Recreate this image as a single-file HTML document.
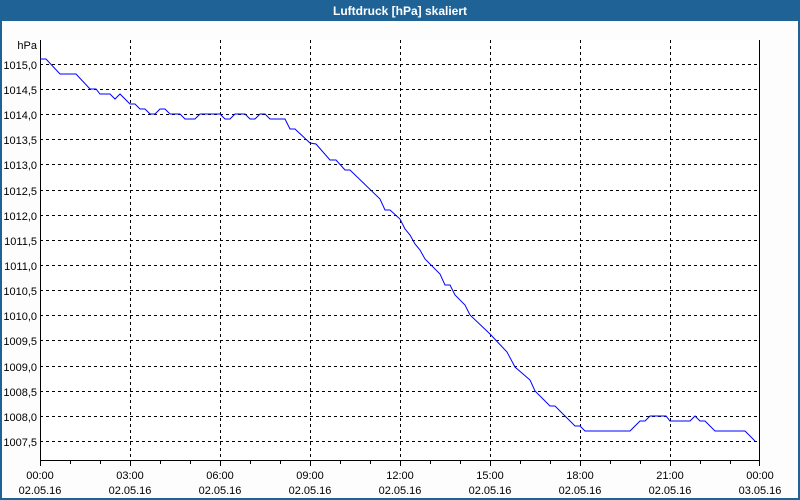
<!DOCTYPE html>
<html><head><meta charset="utf-8"><style>
html,body{margin:0;padding:0;background:#fff;}
svg{display:block;font-family:"Liberation Sans","DejaVu Sans",sans-serif;}
</style></head><body>
<svg width="800" height="500" viewBox="0 0 800 500" xmlns="http://www.w3.org/2000/svg">
<rect x="0" y="0" width="800" height="500" fill="#1f6396"/>
<rect x="2" y="21" width="796" height="477" fill="#fdfdfd"/>
<text x="400" y="15" fill="#fff" font-size="12" font-weight="bold" text-anchor="middle">Luftdruck [hPa] skaliert</text>
<rect x="40" y="40" width="720" height="420" fill="#fff"/>
<g stroke="#000" stroke-width="1" stroke-dasharray="3,3" shape-rendering="crispEdges">
<line x1="40" y1="64.5" x2="760" y2="64.5"/><line x1="40" y1="89.5" x2="760" y2="89.5"/><line x1="40" y1="114.5" x2="760" y2="114.5"/><line x1="40" y1="139.5" x2="760" y2="139.5"/><line x1="40" y1="164.5" x2="760" y2="164.5"/><line x1="40" y1="190.5" x2="760" y2="190.5"/><line x1="40" y1="215.5" x2="760" y2="215.5"/><line x1="40" y1="240.5" x2="760" y2="240.5"/><line x1="40" y1="265.5" x2="760" y2="265.5"/><line x1="40" y1="290.5" x2="760" y2="290.5"/><line x1="40" y1="315.5" x2="760" y2="315.5"/><line x1="40" y1="340.5" x2="760" y2="340.5"/><line x1="40" y1="366.5" x2="760" y2="366.5"/><line x1="40" y1="391.5" x2="760" y2="391.5"/><line x1="40" y1="416.5" x2="760" y2="416.5"/><line x1="40" y1="441.5" x2="760" y2="441.5"/>
<line x1="130.5" y1="40" x2="130.5" y2="460"/><line x1="220.5" y1="40" x2="220.5" y2="460"/><line x1="310.5" y1="40" x2="310.5" y2="460"/><line x1="400.5" y1="40" x2="400.5" y2="460"/><line x1="490.5" y1="40" x2="490.5" y2="460"/><line x1="580.5" y1="40" x2="580.5" y2="460"/><line x1="670.5" y1="40" x2="670.5" y2="460"/>
</g>
<g stroke="#000" stroke-width="1" shape-rendering="crispEdges" fill="none">
<line x1="40.5" y1="40" x2="40.5" y2="461"/><line x1="759.5" y1="40" x2="759.5" y2="466"/><line x1="40" y1="460.5" x2="760" y2="460.5"/>
<path d="M40.5 460v6M70.5 460v4M100.5 460v4M130.5 460v6M160.5 460v4M190.5 460v4M220.5 460v6M250.5 460v4M280.5 460v4M310.5 460v6M340.5 460v4M370.5 460v4M400.5 460v6M430.5 460v4M460.5 460v4M490.5 460v6M520.5 460v4M550.5 460v4M580.5 460v6M610.5 460v4M640.5 460v4M670.5 460v6M700.5 460v4M730.5 460v4"/>
</g>
<polyline fill="none" stroke="#0000ff" stroke-width="1" points="40,59 46,59 60,74 76,74 90,89 96,89 100,94 110,94 115,99 120,94 130,104 135,104 140,109 145,109 150,114 155,114 160,109 165,109 170,114 180,114 185,119 195,119 200,114 220,114 225,119 230,119 235,114 245,114 250,119 255,119 260,114 265,114 270,119 285,119 290,129 295,129 310,143 316,144 330,160 336,160 345,170 350,170 380,199 385,210 390,210 400,219 405,229 410,235 415,244 420,250 425,259 440,274 445,285 450,285 455,295 465,305 470,315 490,334 507,352 515,367 530,380 535,391 550,406 555,406 575,426 580,426 585,431 630,431 640,421 645,421 650,416 666,416 670,421 690,421 695,416 700,421 705,421 715,431 745,431 755,441"/>
<g font-size="11" fill="#000" text-anchor="end">
<text x="37" y="49">hPa</text>
<text x="37" y="69">1015,0</text><text x="37" y="94">1014,5</text><text x="37" y="119">1014,0</text><text x="37" y="144">1013,5</text><text x="37" y="169">1013,0</text><text x="37" y="195">1012,5</text><text x="37" y="220">1012,0</text><text x="37" y="245">1011,5</text><text x="37" y="270">1011,0</text><text x="37" y="295">1010,5</text><text x="37" y="320">1010,0</text><text x="37" y="345">1009,5</text><text x="37" y="371">1009,0</text><text x="37" y="396">1008,5</text><text x="37" y="421">1008,0</text><text x="37" y="446">1007,5</text>
</g>
<g font-size="11" fill="#000" text-anchor="middle">
<text x="40" y="479">00:00</text><text x="40" y="494">02.05.16</text>
<text x="130" y="479">03:00</text><text x="130" y="494">02.05.16</text>
<text x="220" y="479">06:00</text><text x="220" y="494">02.05.16</text>
<text x="310" y="479">09:00</text><text x="310" y="494">02.05.16</text>
<text x="400" y="479">12:00</text><text x="400" y="494">02.05.16</text>
<text x="490" y="479">15:00</text><text x="490" y="494">02.05.16</text>
<text x="580" y="479">18:00</text><text x="580" y="494">02.05.16</text>
<text x="670" y="479">21:00</text><text x="670" y="494">02.05.16</text>
<text x="760" y="479">00:00</text><text x="760" y="494">03.05.16</text>
</g>
</svg>
</body></html>
